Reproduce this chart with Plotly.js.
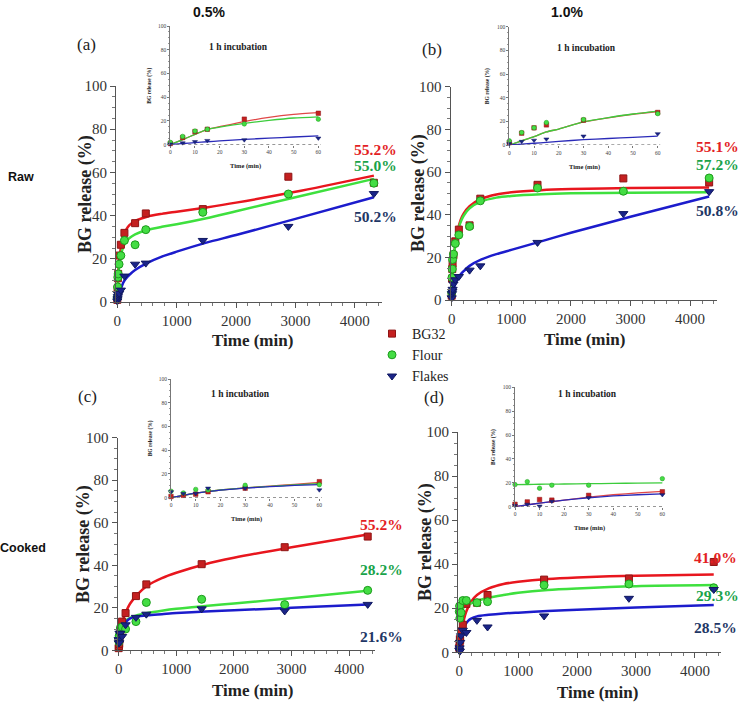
<!DOCTYPE html>
<html><head><meta charset="utf-8">
<script src="https://cdn.plot.ly/plotly-3.0.1.min.js"></script>
<style>html,body{margin:0;padding:0;background:#fff}#chart{width:740px;height:702px}</style>
</head><body><div id="chart"></div>
<script>
// ---------- DATA ----------
const times = [0, 5, 10, 15, 30, 60, 120, 300, 480, 1440, 2880, 4320];
const seriesNames = ['BG32', 'Flour', 'Flakes'];
const panelLabels = ['(a)', '(b)', '(c)', '(d)'];
const columnTitles = ['0.5%', '1.0%'];
const rowTitles = ['Raw', 'Cooked'];
const insetTitle = '1 h incubation';
const xTitle = 'Time (min)';
const yTitle = 'BG release (%)';

// measured points (% BG release)
const a_BG32   = [1, 6, 11, 13, 21.5, 26.5, 32, 36.5, 41, 43, 58, 55.2];
const a_Flour  = [2, 7, 11.5, 13, 17.5, 21.5, 28.5, 26.5, 33.5, 41.5, 50, 55];
const a_Flakes = [0.5, 1.5, 2.5, 3.5, 4, 5.5, 12, 17.5, 18, 28.5, 35, 50.2];

const b_BG32   = [2, 10, 14.5, 17, 21, 27.5, 33, 35, 47.5, 54, 57, 55.1];
const b_Flour  = [3.5, 10.5, 14.5, 19, 21.5, 26.5, 30.5, 34.5, 46.5, 52.5, 51, 57.2];
const b_Flakes = [1, 3, 4, 5, 7.5, 9.5, 11, 14, 16, 27, 40.5, 50.8];

const c_BG32   = [1, 2, 3, 5, 8, 13.5, 17.5, 25.5, 31, 40.5, 48.5, 53.5];
const c_Flour  = [5.5, 4, 7, 6.5, 10.5, 11, 10, 13.5, 22.5, 24, 21.5, 28.2];
const c_Flakes = [5, 3.5, 3.5, 8, 8, 6.5, 12, 15.5, 17, 19.5, 18.5, 21.6];

const d_BG32   = [2, 4, 6, 5.5, 9.5, 12.5, 22, 22.5, 26, 33, 33.5, 41];
const d_Flour  = [18.5, 21, 15.5, 18, 18, 23.5, 23.5, 22.5, 23, 30.5, 31, 29.3];
const d_Flakes = [1, 2, 0.5, 4.5, 7.5, 10, 9, 14.5, 11.5, 16.5, 24.5, 28.5];

// fitted curves (main panels)
const fitTimes = [0, 15, 30, 60, 100, 150, 200, 300, 500, 750, 1000, 1500, 2000, 3000, 4320];
const a_fit_BG32   = [0, 12, 19, 25, 30, 33.5, 35.5, 37.5, 39.5, 40.8, 41.8, 43.8, 46, 51, 58.5];
const a_fit_Flour  = [0, 10, 16, 21.5, 25.5, 28, 29.5, 31.3, 33.3, 34.8, 36, 38.8, 42, 48.5, 57];
const a_fit_Flakes = [0, 2, 3.5, 6, 9, 11, 12.5, 14.8, 18, 21, 23.3, 27.5, 31, 38.5, 48.5];

const b_fit_BG32   = [0, 10, 17, 26, 32.5, 37.5, 40.5, 44, 47.5, 49.5, 50.5, 51.5, 52, 52.5, 52.7];
const b_fit_Flour  = [0, 10.5, 17.5, 26, 32, 36.5, 39.5, 43, 46.2, 48, 48.8, 49.6, 50, 50.3, 50.5];
const b_fit_Flakes = [0, 2.5, 4.5, 7.5, 10, 12, 13.5, 16, 19, 21.5, 23.5, 27.5, 31.5, 39, 48.5];

const c_fit_BG32   = [0, 4.5, 8, 12.5, 16.5, 19.5, 22, 25.5, 30.5, 34, 36.5, 40.5, 43.5, 48.5, 54.5];
const c_fit_Flour  = [0, 4.5, 8, 11, 13, 14.5, 15.3, 16.3, 17.5, 18.6, 19.5, 20.8, 22, 24.5, 28];
const c_fit_Flakes = [0, 4.5, 7.5, 10.5, 12.5, 14, 15, 15.8, 16.5, 17, 17.5, 18.2, 18.8, 20, 21.5];

const d_fit_BG32   = [0, 3.5, 7.5, 12.5, 17, 20.5, 23, 26, 29, 31, 32, 33.3, 34, 34.8, 35.3];
const d_fit_Flour  = [19, 19.3, 19.6, 20, 20.8, 21.5, 22.2, 23.3, 24.8, 26, 27, 28.3, 29, 30, 30.5];
const d_fit_Flakes = [0, 3, 6, 10, 12.5, 14.3, 15.3, 16.3, 17, 17.6, 18, 18.7, 19.3, 20.3, 21.5];

// fitted curves in the 1 h insets
const insetFitTimes = [0, 5, 10, 15, 20, 30, 40, 50, 60];
const a_ifit_BG32   = [0, 4.3, 8.7, 13, 15.2, 19.5, 23, 25.5, 27];
const a_ifit_Flour  = [0, 4.3, 8.7, 13, 14.8, 18, 20.5, 22.5, 23.5];
const a_ifit_Flakes = [0, 1, 1.8, 2.5, 3.2, 4.5, 5.5, 6.5, 7.5];

const b_ifit_BG32   = [0, 3.5, 7, 11, 13.5, 19.5, 23, 26, 28.3];
const b_ifit_Flour  = [0, 3.5, 7, 11, 13.5, 19.5, 23.2, 26.2, 28.7];
const b_ifit_Flakes = [0, 0.7, 1.5, 2.2, 3, 4.5, 5.5, 6.5, 7.5];

const c_ifit_BG32   = [0, 2, 3.8, 5.3, 6.5, 8.3, 9.8, 11.3, 12.8];
const c_ifit_Flour  = [0, 2, 3.8, 5.3, 6.5, 8.3, 9.6, 10.8, 11.8];
const c_ifit_Flakes = [0, 2, 3.8, 5.2, 6.3, 8, 9.3, 10.3, 11];

const d_ifit_BG32   = [0, 1.5, 3, 4.3, 5.5, 8, 10, 11.5, 12.8];
const d_ifit_Flour  = [18.5, 18.6, 18.8, 18.9, 19, 19.3, 19.5, 19.8, 20];
const d_ifit_Flakes = [0, 1.5, 3, 4.3, 5.5, 7.5, 9, 10, 10.8];

// final-release labels at 72 h
const a_final = ['55.2%', '55.0%', '50.2%'];
const b_final = ['55.1%', '57.2%', '50.8%'];
const c_final = ['55.2%', '28.2%', '21.6%'];
const d_final = ['41.0%', '29.3%', '28.5%'];

// ---------- STYLE / LAYOUT ----------
const W = 740, H = 702;
const px = v => v / W;
const py = v => 1 - v / H;
const SERIF = 'Liberation Serif, Times New Roman, serif';
const SANS = 'Liberation Sans, Arial, sans-serif';

const lineColors = ['#e8161e', '#3ee03e', '#1c1ccc'];
const insetLineColors = ['#e04848', '#3ccc3c', '#2a2ab8'];
const markerStyles = [
  {symbol: 'square', size: 7, color: '#c42020', line: {color: '#8e1414', width: 1}},
  {symbol: 'circle', size: 8, color: '#44dd44', line: {color: '#1c9a1c', width: 1}},
  {symbol: 'triangle-down', size: 8, color: '#1a2488', line: {color: '#101860', width: 1}}
];
const labelColors = ['#e31e24', '#1aa34a', '#1f3766'];

const panels = [
  {pts: [a_BG32, a_Flour, a_Flakes], fit: [a_fit_BG32, a_fit_Flour, a_fit_Flakes],
   ifit: [a_ifit_BG32, a_ifit_Flour, a_ifit_Flakes], fin: a_final,
   main: {x: [116.1, 381.6], y: [86, 302]}, inset: {x: [170.3, 320.8], y: [26, 144.7]},
   lab: [86, 45], ytl: [85, 194], xtl: [252, 340], itl: [238, 47],
   finPos: [[375, 149], [375, 166], [375, 216]]},
  {pts: [b_BG32, b_Flour, b_Flakes], fit: [b_fit_BG32, b_fit_Flour, b_fit_Flakes],
   ifit: [b_ifit_BG32, b_ifit_Flour, b_ifit_Flakes], fin: b_final,
   main: {x: [450.5, 716.9], y: [86.7, 300]}, inset: {x: [509.3, 660.2], y: [26.7, 145]},
   lab: [432, 49], ytl: [418, 193], xtl: [584, 339], itl: [586, 48],
   finPos: [[717, 146], [717, 164], [717, 211]]},
  {pts: [c_BG32, c_Flour, c_Flakes], fit: [c_fit_BG32, c_fit_Flour, c_fit_Flakes],
   ifit: [c_ifit_BG32, c_ifit_Flour, c_ifit_Flakes], fin: c_final,
   main: {x: [117.5, 375.2], y: [437.7, 650.3]}, inset: {x: [171, 321.8], y: [379, 497.7]},
   lab: [87, 396], ytl: [83, 544], xtl: [252, 690], itl: [240, 394],
   finPos: [[382, 524], [382, 569], [382, 636]]},
  {pts: [d_BG32, d_Flour, d_Flakes], fit: [d_fit_BG32, d_fit_Flour, d_fit_Flakes],
   ifit: [d_ifit_BG32, d_ifit_Flour, d_ifit_Flakes], fin: d_final,
   main: {x: [458.1, 721.4], y: [432, 652.3]}, inset: {x: [515, 664.8], y: [387.3, 506.7]},
   lab: [434, 398], ytl: [425, 542], xtl: [597, 692], itl: [587, 394],
   finPos: [[715, 557], [717, 595], [715, 627]]}
];

const traces = [];
const layout = {
  width: W, height: H, margin: {l: 0, r: 0, t: 0, b: 0},
  paper_bgcolor: '#ffffff', plot_bgcolor: 'rgba(0,0,0,0)',
  showlegend: true,
  legend: {x: px(372), y: py(318), xanchor: 'left', yanchor: 'top',
           bgcolor: 'rgba(0,0,0,0)', font: {family: SERIF, size: 14, color: '#222'},
           tracegroupgap: 0, itemwidth: 30},
  annotations: [], shapes: []
};

function ann(text, x, y, opts) {
  layout.annotations.push(Object.assign({
    text, x: px(x), y: py(y), xref: 'paper', yref: 'paper',
    xanchor: 'center', yanchor: 'middle', showarrow: false,
    font: {family: SERIF, size: 14, color: '#222'}
  }, opts || {}));
}

const insetTimes = times.slice(0, 6);

panels.forEach((p, i) => {
  const mi = i + 1, ii = i + 5;
  const mx = 'x' + mi, my = 'y' + mi, ix = 'x' + ii, iy = 'y' + ii;
  const mxKey = mi === 1 ? 'xaxis' : 'xaxis' + mi;
  const myKey = mi === 1 ? 'yaxis' : 'yaxis' + mi;

  layout[mxKey] = {
    domain: [px(p.main.x[0]), px(p.main.x[1])], anchor: my, range: [-20, 4450],
    showline: true, linecolor: '#555', linewidth: 1, ticks: 'outside', ticklen: 5,
    tickcolor: '#555', tick0: 0, dtick: 1000, showgrid: false, zeroline: false,
    minor: {ticks: 'outside', ticklen: 3, dtick: 200, tickcolor: '#777', showgrid: false},
    tickfont: {family: SERIF, size: 15, color: '#333'}
  };
  layout[myKey] = {
    domain: [py(p.main.y[1]), py(p.main.y[0])], anchor: mx, range: [0, 100],
    showline: true, linecolor: '#555', linewidth: 1, ticks: 'outside', ticklen: 5,
    tickcolor: '#555', dtick: 20, showgrid: false, zeroline: false,
    minor: {ticks: 'outside', ticklen: 3, dtick: 5, tickcolor: '#777', showgrid: false},
    tickfont: {family: SERIF, size: 15, color: '#333'}
  };
  layout['xaxis' + ii] = {
    domain: [px(p.inset.x[0]), px(p.inset.x[1])], anchor: iy, range: [0, 61],
    showline: false, ticks: 'outside', ticklen: 2, tickcolor: '#777', dtick: 10,
    showgrid: false, zeroline: false,
    tickfont: {family: SERIF, size: 5.5, color: '#444'}
  };
  layout['yaxis' + ii] = {
    domain: [py(p.inset.y[1]), py(p.inset.y[0])], anchor: ix, range: [0, 100],
    showline: true, linecolor: '#777', linewidth: 1, ticks: 'outside', ticklen: 2,
    tickcolor: '#777', dtick: 20, showgrid: false, zeroline: false,
    minor: {ticks: 'outside', ticklen: 1, dtick: 5, tickcolor: '#999', showgrid: false},
    tickfont: {family: SERIF, size: 5.5, color: '#444'}
  };
  layout.shapes.push({type: 'line', xref: ix + ' domain', yref: iy, x0: 0, x1: 1, y0: 0, y1: 0,
                      line: {color: '#555', width: 1, dash: 'dot'}});

  for (let s = 0; s < 3; s++) {
    traces.push({type: 'scatter', mode: 'lines', x: fitTimes, y: p.fit[s], xaxis: mx, yaxis: my,
      line: {color: lineColors[s], width: 2.5, shape: 'spline', smoothing: 0.8},
      showlegend: false, hoverinfo: 'skip', cliponaxis: false});
  }
  for (let s = 0; s < 3; s++) {
    traces.push({type: 'scatter', mode: 'markers', x: times, y: p.pts[s], xaxis: mx, yaxis: my,
      name: seriesNames[s], legendgroup: seriesNames[s], showlegend: i === 0,
      marker: markerStyles[s], cliponaxis: false});
  }
  for (let s = 0; s < 3; s++) {
    traces.push({type: 'scatter', mode: 'lines', x: insetFitTimes, y: p.ifit[s], xaxis: ix, yaxis: iy,
      line: {color: insetLineColors[s], width: 1.3, shape: 'spline', smoothing: 0.6},
      showlegend: false, hoverinfo: 'skip', cliponaxis: false});
  }
  for (let s = 0; s < 3; s++) {
    const m = markerStyles[s];
    traces.push({type: 'scatter', mode: 'markers', x: insetTimes, y: p.pts[s].slice(0, 6),
      xaxis: ix, yaxis: iy, showlegend: false, cliponaxis: false,
      marker: {symbol: m.symbol, size: 4.5, color: m.color, line: {color: m.line.color, width: 0.5}}});
  }

  ann(panelLabels[i], p.lab[0], p.lab[1], {font: {family: SERIF, size: 17, color: '#222'}});
  ann('<b>' + yTitle + '</b>', p.ytl[0], p.ytl[1], {textangle: -90, font: {family: SERIF, size: 18, color: '#222'}});
  ann('<b>' + xTitle + '</b>', p.xtl[0], p.xtl[1], {font: {family: SERIF, size: 17, color: '#222'}});
  ann('<b>' + insetTitle + '</b>', p.itl[0], p.itl[1], {font: {family: SERIF, size: 9.5, color: '#222'}});
  const icx = (p.inset.x[0] + p.inset.x[1]) / 2;
  ann('<b>' + xTitle + '</b>', icx, p.inset.y[1] + 21.5, {font: {family: SERIF, size: 6.5, color: '#222'}});
  ann('<b>' + yTitle + '</b>', p.inset.x[0] - 21, (p.inset.y[0] + p.inset.y[1]) / 2,
      {textangle: -90, font: {family: SERIF, size: 5.5, color: '#222'}});
  for (let s = 0; s < 3; s++) {
    ann('<b>' + p.fin[s] + '</b>', p.finPos[s][0], p.finPos[s][1],
        {font: {family: SERIF, size: 15.5, color: labelColors[s]}});
  }
});

ann('<b>' + columnTitles[0] + '</b>', 209, 12, {font: {family: SANS, size: 14, color: '#111'}});
ann('<b>' + columnTitles[1] + '</b>', 567, 12, {font: {family: SANS, size: 14, color: '#111'}});
ann('<b>' + rowTitles[0] + '</b>', 21, 177, {font: {family: SANS, size: 12.5, color: '#111'}});
ann('<b>' + rowTitles[1] + '</b>', 23, 548, {font: {family: SANS, size: 12.5, color: '#111'}});

Plotly.newPlot('chart', traces, layout, {staticPlot: true, displayModeBar: false});
</script></body></html>
